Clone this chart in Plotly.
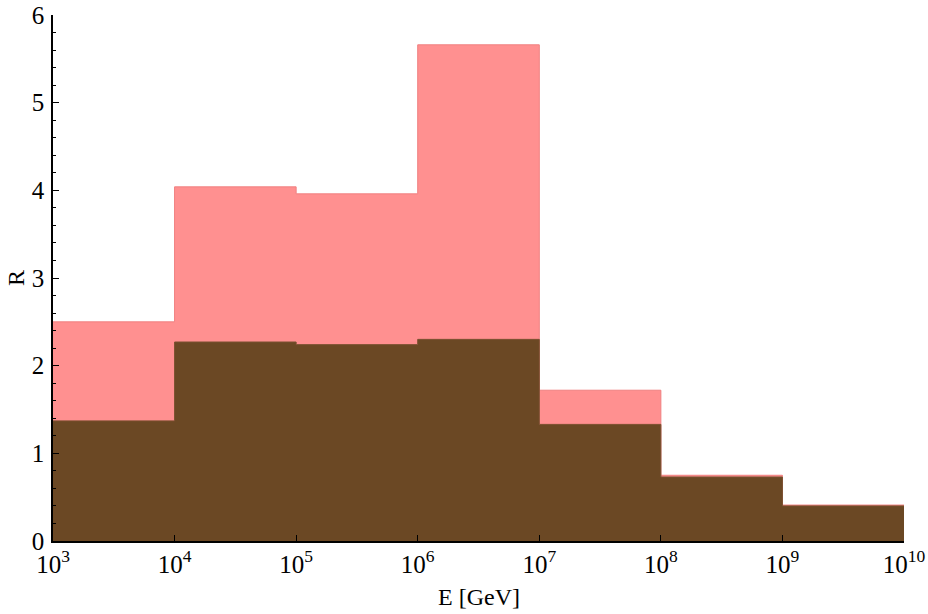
import plotly.graph_objects as go

# bin edges in GeV (log-spaced, one per decade)
edges = [1e3, 1e4, 1e5, 1e6, 1e7, 1e8, 1e9, 1e10]
r_upper = [2.50, 4.04, 3.96, 5.66, 1.72, 0.75, 0.41]
r_lower = [1.37, 2.27, 2.24, 2.30, 1.33, 0.73, 0.40]

x_tick_vals = [1e3, 1e4, 1e5, 1e6, 1e7, 1e8, 1e9, 1e10]
x_tick_text = ["10<sup>3</sup>", "10<sup>4</sup>", "10<sup>5</sup>", "10<sup>6</sup>",
               "10<sup>7</sup>", "10<sup>8</sup>", "10<sup>9</sup>", "10<sup>10</sup>"]

PINK = "#ff9090"
BROWN = "#6b4824"
FONT = "Liberation Serif"


def step(vals):
    # repeat last value so the hv step closes at the final edge
    return list(vals) + [vals[-1]]


fig = go.Figure()
fig.add_trace(go.Scatter(x=edges, y=step(r_upper), mode="lines", line_shape="hv",
                         fill="tozeroy", fillcolor=PINK,
                         line=dict(color="#f08080", width=1), showlegend=False))
fig.add_trace(go.Scatter(x=edges, y=step(r_lower), mode="lines", line_shape="hv",
                         fill="tozeroy", fillcolor=BROWN,
                         line=dict(color="#7a5030", width=1), showlegend=False))

fig.update_layout(
    width=928, height=614,
    margin=dict(l=53, r=24, t=15, b=73),
    paper_bgcolor="white", plot_bgcolor="white",
    font=dict(family=FONT, size=24, color="black"),
    xaxis=dict(type="log", range=[3, 10], tickvals=x_tick_vals, ticktext=x_tick_text,
               ticks="inside", ticklen=6, tickcolor="black", showline=True,
               linecolor="black", linewidth=1.5, showgrid=False, zeroline=False,
               automargin=False, ticklabeloverflow="allow", tickfont=dict(size=25)),
    yaxis=dict(range=[0, 6], dtick=1, ticks="inside", ticklen=6, tickcolor="black",
               showline=True, linecolor="black", linewidth=1.5, showgrid=False,
               zeroline=False, automargin=False, ticklabelstandoff=2,
               ticklabeloverflow="allow", tickfont=dict(size=25),
               minor=dict(dtick=0.2, ticks="inside", ticklen=3, tickcolor="black",
                          showgrid=False)),
)

# axis titles
fig.add_annotation(text="E [GeV]", xref="paper", yref="paper", x=0.5, y=0,
                   xanchor="center", yanchor="middle", yshift=-56,
                   showarrow=False, font=dict(size=24))
fig.add_annotation(text="R", xref="paper", yref="paper", x=0, y=0.5, textangle=-90,
                   xanchor="center", yanchor="middle", xshift=-37,
                   showarrow=False, font=dict(size=24))

# drop the default body margin so the figure sits at the window's corner
fig.write_html("out.html", config={"displayModeBar": False},
               post_script="document.body.style.margin='0';")
